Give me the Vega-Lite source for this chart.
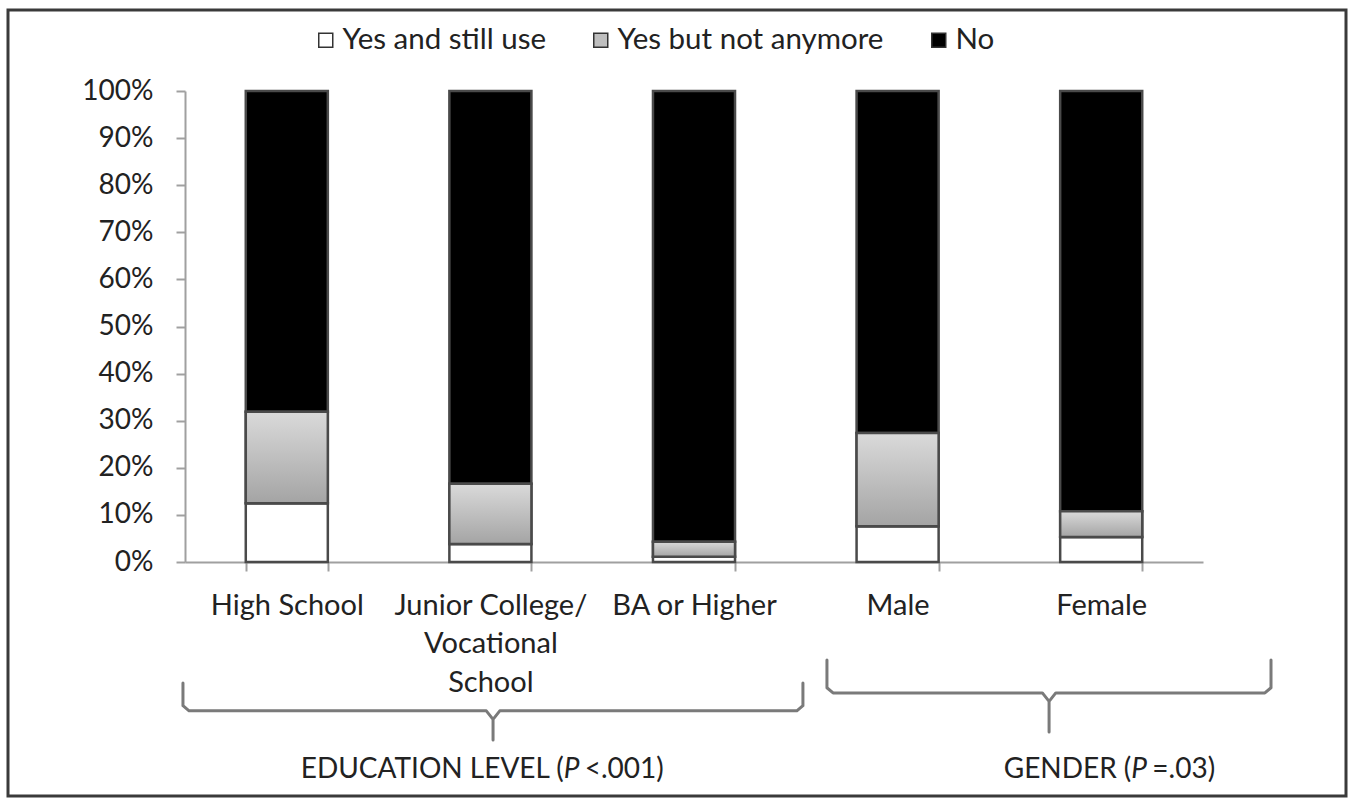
{
  "$schema": "https://vega.github.io/schema/vega-lite/v6.json",
  "width": 1338,
  "height": 786,
  "autosize": {"type": "none"},
  "padding": {"left": 8, "top": 10, "right": 3, "bottom": 2},
  "background": "white",
  "config": {"view": {"stroke": "#3a3a3a", "strokeWidth": 3}, "font": "Lato"},
  "datasets": {
    "bars": [
      {"category": "High School", "series": "Yes and still use", "order": 1, "value": 0.125},
      {"category": "High School", "series": "Yes but not anymore", "order": 2, "value": 0.194},
      {"category": "High School", "series": "No", "order": 3, "value": 0.681},
      {"category": "Junior College/ Vocational School", "series": "Yes and still use", "order": 1, "value": 0.038},
      {"category": "Junior College/ Vocational School", "series": "Yes but not anymore", "order": 2, "value": 0.128},
      {"category": "Junior College/ Vocational School", "series": "No", "order": 3, "value": 0.834},
      {"category": "BA or Higher", "series": "Yes and still use", "order": 1, "value": 0.011},
      {"category": "BA or Higher", "series": "Yes but not anymore", "order": 2, "value": 0.032},
      {"category": "BA or Higher", "series": "No", "order": 3, "value": 0.957},
      {"category": "Male", "series": "Yes and still use", "order": 1, "value": 0.076},
      {"category": "Male", "series": "Yes but not anymore", "order": 2, "value": 0.198},
      {"category": "Male", "series": "No", "order": 3, "value": 0.726},
      {"category": "Female", "series": "Yes and still use", "order": 1, "value": 0.053},
      {"category": "Female", "series": "Yes but not anymore", "order": 2, "value": 0.055},
      {"category": "Female", "series": "No", "order": 3, "value": 0.892}
    ],
    "braces": [
      {"brace": "edu", "seq": 1, "bx": -0.01, "by": -0.257},
      {"brace": "edu", "seq": 2, "bx": -0.01, "by": -0.305},
      {"brace": "edu", "seq": 3, "bx": 0.02, "by": -0.316},
      {"brace": "edu", "seq": 4, "bx": 1.48, "by": -0.316},
      {"brace": "edu", "seq": 5, "bx": 1.513, "by": -0.334},
      {"brace": "edu", "seq": 6, "bx": 1.513, "by": -0.378},
      {"brace": "edu", "seq": 7, "bx": 1.513, "by": -0.334},
      {"brace": "edu", "seq": 8, "bx": 1.546, "by": -0.316},
      {"brace": "edu", "seq": 9, "bx": 3.005, "by": -0.316},
      {"brace": "edu", "seq": 10, "bx": 3.035, "by": -0.305},
      {"brace": "edu", "seq": 11, "bx": 3.035, "by": -0.257},
      {"brace": "gen", "seq": 1, "bx": 3.153, "by": -0.208},
      {"brace": "gen", "seq": 2, "bx": 3.153, "by": -0.267},
      {"brace": "gen", "seq": 3, "bx": 3.183, "by": -0.278},
      {"brace": "gen", "seq": 4, "bx": 4.211, "by": -0.278},
      {"brace": "gen", "seq": 5, "bx": 4.244, "by": -0.296},
      {"brace": "gen", "seq": 6, "bx": 4.244, "by": -0.361},
      {"brace": "gen", "seq": 7, "bx": 4.244, "by": -0.296},
      {"brace": "gen", "seq": 8, "bx": 4.277, "by": -0.278},
      {"brace": "gen", "seq": 9, "bx": 5.304, "by": -0.278},
      {"brace": "gen", "seq": 10, "bx": 5.334, "by": -0.267},
      {"brace": "gen", "seq": 11, "bx": 5.334, "by": -0.208}
    ],
    "notes": [
      {"group": "edu", "pre": "EDUCATION LEVEL (", "p": "P", "post": " <.001)", "pStart": 1.86, "pEnd": 1.963, "ty": -0.442},
      {"group": "gen", "pre": "GENDER (", "p": "P", "post": " =.03)", "pStart": 4.648, "pEnd": 4.751, "ty": -0.442}
    ]
  },
  "layer": [
    {
      "data": {"name": "bars"},
      "transform": [
        {"stack": "value", "groupby": ["category"], "sort": [{"field": "order", "order": "ascending"}], "as": ["y0", "y1"]}
      ],
      "encoding": {
        "x": {
          "field": "category", "type": "nominal",
          "sort": ["High School", "Junior College/ Vocational School", "BA or Higher", "Male", "Female"],
          "title": null,
          "scale": {"type": "band", "range": [177, 1195], "paddingInner": 0.597, "paddingOuter": 0.2985},
          "axis": {
            "orient": "bottom", "offset": -234, "tickBand": "extent",
            "tickSize": 9, "tickColor": "#a0a0a0", "tickWidth": 2,
            "domainColor": "#a0a0a0", "domainWidth": 2, "grid": false,
            "labelAngle": 0, "labelFont": "Lato", "labelFontSize": 29, "labelColor": "#222222",
            "labelPadding": 20, "labelLineHeight": 38.5, "labelLimit": 400, "labelOverlap": false, "labelBound": false,
            "labelExpr": "datum.label == 'Junior College/ Vocational School' ? ['Junior College/', 'Vocational', 'School'] : datum.label"
          }
        },
        "y": {
          "field": "y0", "type": "quantitative", "title": null,
          "scale": {"domain": [0, 1], "range": [552, 81], "nice": false, "zero": false},
          "axis": {
            "offset": -177, "values": [0, 0.1, 0.2, 0.3, 0.4, 0.5, 0.6, 0.7, 0.8, 0.9, 1],
            "format": ".0%", "tickSize": 9, "tickColor": "#a0a0a0", "tickWidth": 2,
            "domainColor": "#a0a0a0", "domainWidth": 2, "grid": false,
            "labelFont": "Lato", "labelFontSize": 28, "labelColor": "#222222",
            "labelPadding": 23, "labelOverlap": false, "labelBound": false
          }
        },
        "y2": {"field": "y1"}
      },
      "layer": [
        {
          "mark": {"type": "bar", "stroke": "#4a4a4a", "strokeWidth": 2.5},
          "encoding": {
            "color": {
              "field": "series", "type": "nominal",
              "scale": {"domain": ["Yes and still use", "Yes but not anymore", "No"], "range": ["#ffffff", "#bfbfbf", "#000000"]},
              "legend": {
                "orient": "none", "legendX": 303, "legendY": 15, "direction": "horizontal", "title": null,
                "symbolType": "square", "symbolSize": 196, "symbolStrokeColor": "#333333", "symbolStrokeWidth": 1.5,
                "labelFont": "Lato", "labelFontSize": 29.5, "labelColor": "#222222", "labelLimit": 400,
                "columnPadding": 40, "labelOffset": 2
              }
            }
          }
        },
        {
          "transform": [{"filter": "datum.series === 'Yes but not anymore'"}],
          "mark": {
            "type": "bar", "stroke": "#4a4a4a", "strokeWidth": 2.5,
            "fill": {"gradient": "linear", "x1": 0, "y1": 0, "x2": 0, "y2": 1,
              "stops": [{"offset": 0, "color": "#dadada"}, {"offset": 1, "color": "#a4a4a4"}]}
          }
        }
      ]
    },
    {
      "layer": [
        {
          "data": {"name": "braces"},
          "mark": {"type": "line", "stroke": "#7a7a7a", "strokeWidth": 3, "strokeCap": "round", "strokeJoin": "round"},
          "encoding": {
            "x": {"field": "bx", "type": "quantitative", "title": null, "scale": {"domain": [0, 5], "range": [177, 1195], "nice": false, "zero": false}, "axis": null},
            "y": {"field": "by", "type": "quantitative", "title": null},
            "detail": {"field": "brace"},
            "order": {"field": "seq"}
          }
        },
        {
          "data": {"name": "notes"},
          "mark": {"type": "text", "align": "right", "baseline": "middle", "font": "Lato", "fontSize": 28, "color": "#222222"},
          "encoding": {
            "x": {"field": "pStart", "type": "quantitative", "title": null},
            "y": {"field": "ty", "type": "quantitative", "title": null},
            "text": {"field": "pre"}
          }
        },
        {
          "data": {"name": "notes"},
          "mark": {"type": "text", "align": "left", "baseline": "middle", "font": "Lato", "fontSize": 28, "fontStyle": "italic", "color": "#222222"},
          "encoding": {
            "x": {"field": "pStart", "type": "quantitative", "title": null},
            "y": {"field": "ty", "type": "quantitative", "title": null},
            "text": {"field": "p"}
          }
        },
        {
          "data": {"name": "notes"},
          "mark": {"type": "text", "align": "left", "baseline": "middle", "font": "Lato", "fontSize": 28, "color": "#222222"},
          "encoding": {
            "x": {"field": "pEnd", "type": "quantitative", "title": null},
            "y": {"field": "ty", "type": "quantitative", "title": null},
            "text": {"field": "post"}
          }
        }
      ]
    }
  ],
  "resolve": {"scale": {"x": "independent"}}
}
